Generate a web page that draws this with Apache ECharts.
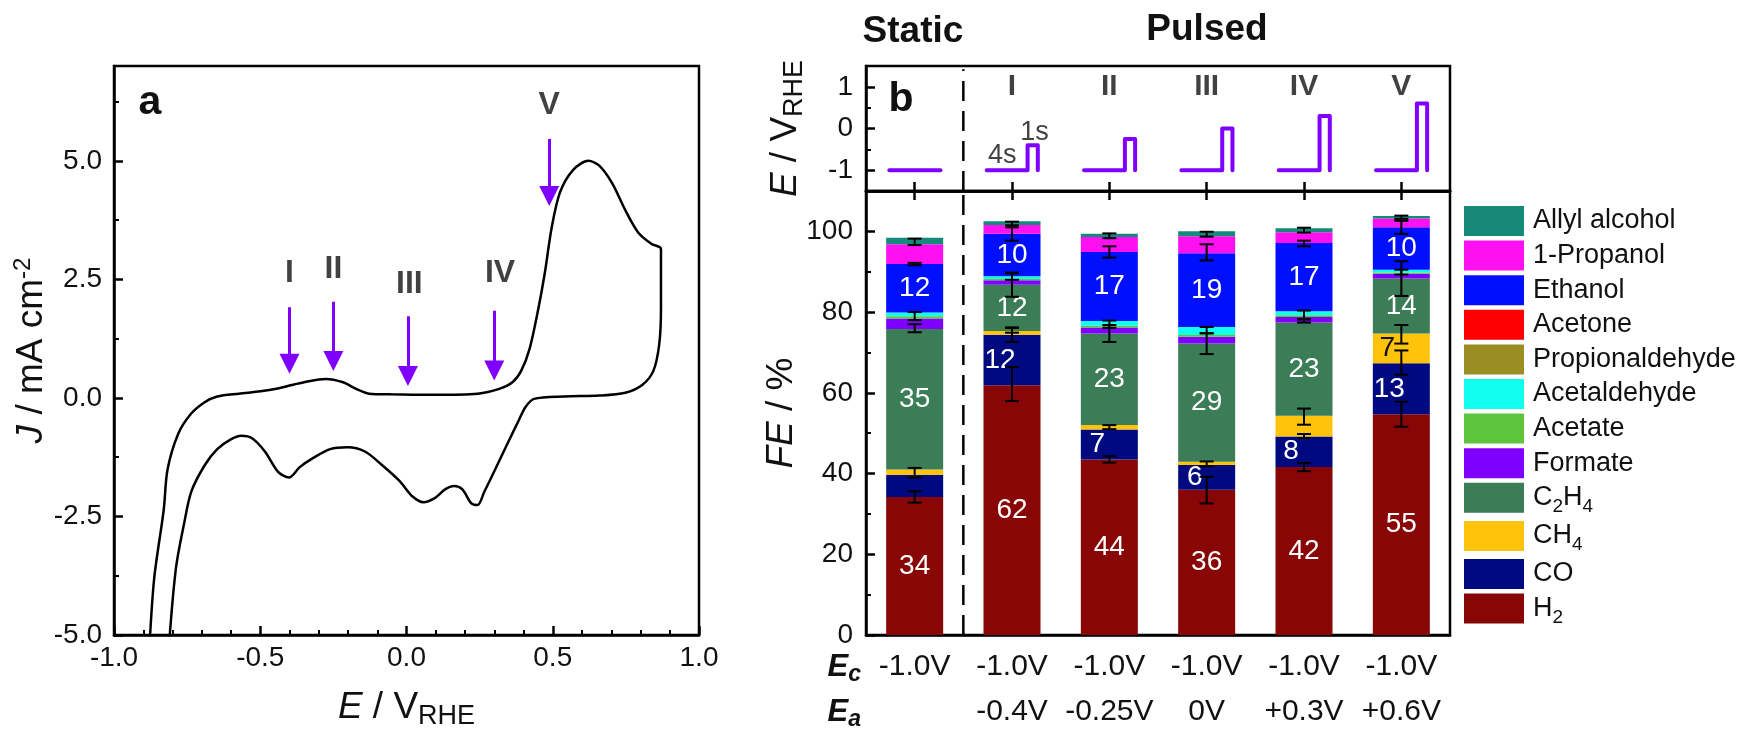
<!DOCTYPE html>
<html>
<head>
<meta charset="utf-8">
<script src="https://cdn.jsdelivr.net/npm/echarts@6/dist/echarts.min.js"></script>
<style>html,body{margin:0;padding:0;background:#fff}#c{width:1749px;height:740px}</style>
</head>
<body>
<div id="c"></div>
<script>
// ================= DATA =================
// Panel a: cyclic voltammogram, E / V_RHE and J / mA cm-2 (closed loop)
const cvE = [-0.877,-0.862,-0.830,-0.817,-0.780,-0.736,-0.690,-0.647,-0.573,-0.499,-0.440,-0.400,-0.350,-0.276,-0.217,-0.172,-0.128,-0.053,0.095,0.243,0.317,0.362,0.392,0.421,0.451,0.473,0.496,0.525,0.570,0.622,0.659,0.703,0.748,0.792,0.837,0.870,0.870,0.864,0.844,0.807,0.748,0.659,0.540,0.436,0.407,0.384,0.347,0.303,0.266,0.243,0.221,0.191,0.162,0.132,0.095,0.058,0.021,-0.024,-0.083,-0.142,-0.202,-0.261,-0.320,-0.365,-0.402,-0.439,-0.484,-0.528,-0.565,-0.602,-0.647,-0.690,-0.736,-0.760,-0.788,-0.810];
const cvJ = [-5.05,-3.77,-2.36,-1.51,-0.75,-0.33,-0.09,0.03,0.09,0.14,0.20,0.26,0.33,0.40,0.33,0.19,0.09,0.075,0.066,0.09,0.19,0.33,0.57,1.04,1.89,2.64,3.58,4.34,4.81,5.00,4.90,4.53,3.96,3.49,3.25,3.14,1.89,1.13,0.57,0.28,0.11,0.05,0.03,-0.02,-0.19,-0.47,-0.94,-1.51,-1.98,-2.26,-2.22,-1.93,-1.86,-1.93,-2.12,-2.20,-2.08,-1.75,-1.42,-1.13,-1.04,-1.08,-1.27,-1.46,-1.68,-1.56,-1.13,-0.85,-0.80,-0.88,-1.08,-1.42,-1.98,-2.64,-3.58,-5.05];
const arrowNames = ['I','II','III','IV','V'];
const arrowE     = [-0.40, -0.25, 0.005, 0.30, 0.488];
const arrowJTop  = [1.91, 2.03, 1.72, 1.84, 5.46];
const arrowJHead = [0.72, 0.78, 0.46, 0.58, 4.26];
const arrowLabelE = [-0.40, -0.25, 0.01, 0.32, 0.488];
const arrowLabelJ = [2.64, 2.72, 2.40, 2.64, 6.18];

// Panel b
const categories = ['Static','I','II','III','IV','V'];
const pulseEc = [-1.0, -1.0, -1.0, -1.0, -1.0, -1.0];
const pulseEa = [null, -0.4, -0.25, 0.0, 0.3, 0.6];
const pulseTimes = [0, 4, 4, 5, 5];           // 4 s cathodic, 1 s anodic
const ecLabels = ['-1.0V','-1.0V','-1.0V','-1.0V','-1.0V','-1.0V'];
const eaLabels = ['', '-0.4V', '-0.25V', '0V', '+0.3V', '+0.6V'];

// Faradaic efficiencies (%), order: Static, I, II, III, IV, V
const feH2           = [34.2, 61.9, 43.5, 36.0, 41.6, 54.7];
const feCO           = [5.5, 12.5, 7.4, 6.1, 7.6, 12.6];
const feCH4          = [1.3, 0.9, 1.1, 0.8, 5.1, 7.4];
const feC2H4         = [34.8, 11.5, 22.7, 29.3, 23.1, 13.6];
const feFormate      = [2.6, 1.1, 1.5, 1.7, 1.4, 1.2];
const feAcetate      = [0.6, 0.3, 0.4, 0.4, 0.4, 0.3];
const feAcetaldehyde = [0.9, 0.7, 1.2, 2.0, 1.0, 0.7];
const fePropionaldehyde = [0, 0, 0, 0, 0, 0];
const feAcetone      = [0, 0, 0, 0, 0, 0];
const feEthanol      = [12.0, 10.5, 17.1, 18.3, 16.9, 10.5];
const fePropanol     = [4.9, 2.2, 3.7, 4.2, 2.7, 2.2];
const feAllyl        = [1.6, 0.9, 0.8, 1.2, 1.0, 0.6];

// printed segment labels
const labH2      = ['34','62','44','36','42','55'];
const labCO      = ['','12','7','6','8','13'];
const labCH4     = ['','','','','','7'];
const labC2H4    = ['35','12','23','29','23','14'];
const labEthanol = ['12','10','17','19','17','10'];

// error bars: [category index, centre FE, half range]
const errBars = [
  [0,97.4,0.8],[0,91.9,0.3],[0,79.0,1.0],[0,76.0,1.0],[0,40.2,1.2],[0,34.2,1.4],
  [1,101.7,0.7],[1,99.6,1.9],[1,88.8,0.8],[1,86.8,3.0],[1,75.5,0.6],[1,74.4,1.8],[1,62.2,4.2],
  [2,98.9,0.6],[2,94.9,1.4],[2,77.0,0.9],[2,74.7,2.1],[2,51.5,0.5],[2,43.5,0.8],
  [3,99.3,0.6],[3,94.8,2.0],[3,75.5,0.8],[3,72.2,2.6],[3,42.4,0.6],[3,35.9,3.3],
  [4,100.3,0.6],[4,97.0,0.7],[4,79.3,1.1],[4,77.8,0.4],[4,54.1,2.0],[4,49.3,0.5],[4,41.6,1.0],
  [5,103.5,0.4],[5,101.0,1.6],[5,89.9,0.6],[5,88.3,4.3],[5,74.5,2.3],[5,67.5,3.0],[5,54.7,3.1]
];

// legend order (top to bottom) and stacking (bottom to top)
const legendOrder = ['Allyl alcohol','1-Propanol','Ethanol','Acetone','Propionaldehyde','Acetaldehyde','Acetate','Formate','C2H4','CH4','CO','H2'];
const stackSeries = [
  ['H2', feH2, labH2], ['CO', feCO, labCO], ['CH4', feCH4, labCH4], ['C2H4', feC2H4, labC2H4],
  ['Formate', feFormate, null], ['Acetate', feAcetate, null], ['Acetaldehyde', feAcetaldehyde, null],
  ['Propionaldehyde', fePropionaldehyde, null], ['Acetone', feAcetone, null],
  ['Ethanol', feEthanol, labEthanol], ['1-Propanol', fePropanol, null], ['Allyl alcohol', feAllyl, null]
];

// ================= STYLE =================
const FONT = '"Liberation Sans", Arial, Helvetica, sans-serif';
const INK = '#111';
const PURPLE = '#7f00ff';
const colors = {
  'Allyl alcohol':'#17897a','1-Propanol':'#ff10f0','Ethanol':'#0010ff','Acetone':'#ff0000',
  'Propionaldehyde':'#9a8e22','Acetaldehyde':'#12fff0','Acetate':'#5ec43c','Formate':'#8000ff',
  'C2H4':'#3b7d57','CH4':'#ffc30c','CO':'#000a80','H2':'#880606'
};
const labelStyle = { // offsets for labels pushed aside by error bars
  CO: [[0,0],[-12,0],[-12,0],[-12,0],[-13,0],[-12,0]],
  CH4: [[0,0],[0,0],[0,0],[0,0],[0,0],[-14,0]]
};
const labelColor = { CH4: '#111' };
const pulseScale = 0.105, pulseStart = -0.26; // category units per second, start offset

const TITLE = 37;
const richName = {
  i:{fontStyle:'italic', fontSize:TITLE, fontFamily:FONT, color:INK},
  sub:{fontSize:27, fontFamily:FONT, color:INK, verticalAlign:'bottom', padding:[18,0,0,0]},
  sup:{fontSize:24, fontFamily:FONT, color:INK, verticalAlign:'top', padding:[0,0,16,0]}
};
const nameStyle = {fontSize:TITLE, fontFamily:FONT, color:INK, rich:richName};
const axLine = {show:true, onZero:false, lineStyle:{color:'#000', width:2.5}};
const tickLab = {fontSize:28, fontFamily:FONT, color:INK};

function minorAxis(grid, min, max, vals){
  return {type:'value', gridIndex:grid, position:'left', offset:0, min:min, max:max,
    axisLine:{show:false, onZero:false},
    axisLabel:{show:false}, splitLine:{show:false},
    axisTick:{show:true, inside:true, length:5, customValues:vals, lineStyle:{color:'#000', width:2}}};
}

// ================= BUILD =================
const series = [];

// Panel a CV
series.push({type:'line', xAxisIndex:0, yAxisIndex:0, data: cvE.map((e,i)=>[e, cvJ[i]]),
  showSymbol:false, smooth:0.3, lineStyle:{color:'#000', width:2.5}, clip:true, z:3});
// Panel a arrows
series.push({type:'lines', coordinateSystem:'cartesian2d', xAxisIndex:0, yAxisIndex:0,
  data: arrowE.map((e,i)=>({coords:[[e, arrowJTop[i]],[e, arrowJHead[i]]]})),
  symbol:['none','triangle'], symbolSize:[15,20],
  lineStyle:{color:PURPLE, width:3, opacity:1}, itemStyle:{color:PURPLE}, z:4});
// Panel a roman numerals
series.push({type:'scatter', xAxisIndex:0, yAxisIndex:0, symbolSize:0,
  data: arrowNames.map((n,i)=>[arrowLabelE[i], arrowLabelJ[i], n]),
  label:{show:true, position:'inside', formatter:p=>p.data[2], fontSize:32, fontWeight:'bold', fontFamily:FONT, color:INK}});

// Panel b top: potential programmes
categories.forEach((c,k)=>{
  let pts;
  if (pulseEa[k] === null) {
    pts = [[k+pulseStart, pulseEc[k]], [k+pulseStart+5*pulseScale, pulseEc[k]]];
  } else {
    const lv = [pulseEc[k], pulseEc[k], pulseEa[k], pulseEa[k], pulseEc[k]];
    pts = pulseTimes.map((t,j)=>[k+pulseStart+t*pulseScale, lv[j]]);
  }
  series.push({type:'line', xAxisIndex:1, yAxisIndex:2, data:pts, showSymbol:false,
    lineStyle:{color:PURPLE, width:4, join:'round', cap:'round'}, z:3});
});
series.push({type:'scatter', xAxisIndex:1, yAxisIndex:2, symbolSize:0,
  data: categories.slice(1).map((c,i)=>[i+1, 1.0, c]),
  label:{show:true, position:'inside', formatter:p=>p.data[2], fontSize:30, fontWeight:'bold', fontFamily:FONT, color:INK}});
series.push({type:'scatter', xAxisIndex:1, yAxisIndex:2, symbolSize:0,
  data: [[1-0.1, -0.64, '4s'], [1+0.23, -0.1, '1s']],
  label:{show:true, position:'inside', formatter:p=>p.data[2], fontSize:27, fontFamily:FONT, color:INK}});

// dashed separator between static and pulsed
series.push({type:'line', xAxisIndex:1, yAxisIndex:2, data:[[0.5,-1.5],[0.5,1.42]], showSymbol:false,
  lineStyle:{color:'#000', width:2.5, type:[20,10]}});
series.push({type:'line', xAxisIndex:5, yAxisIndex:4, data:[[0.5,0],[0.5,110]], showSymbol:false,
  lineStyle:{color:'#000', width:2.5, type:[20,10]}});

// stacked FE bars
stackSeries.forEach(([name, vals, labs])=>{
  series.push({type:'bar', name:name, stack:'fe', xAxisIndex:3, yAxisIndex:4, barWidth:57,
    itemStyle:{color:colors[name]},
    data: vals.map((v,i)=>{
      const item = {value:v};
      if (labs && labs[i]) {
        item.label = {show:true, position:'inside', formatter:labs[i], fontSize:28, fontFamily:FONT,
          color: labelColor[name] || '#fff',
          offset: (labelStyle[name] ? labelStyle[name][i] : [0,0])};
      }
      return item;
    })
  });
});
// error bars
series.push({type:'custom', xAxisIndex:3, yAxisIndex:4, data:errBars, z:10,
  renderItem:(params, api)=>{
    const x = api.value(0), c = api.value(1), e = api.value(2);
    const p1 = api.coord([x, c+e]), p2 = api.coord([x, c-e]);
    const hw = 7, st = {stroke:'#000', lineWidth:2};
    return {type:'group', children:[
      {type:'line', shape:{x1:p1[0], y1:p1[1], x2:p2[0], y2:p2[1]}, style:st},
      {type:'line', shape:{x1:p1[0]-hw, y1:p1[1], x2:p1[0]+hw, y2:p1[1]}, style:st},
      {type:'line', shape:{x1:p2[0]-hw, y1:p2[1], x2:p2[0]+hw, y2:p2[1]}, style:st}
    ]};
  }});

const subFmt = {'C2H4':'C{s|2}H{s|4}', 'CH4':'CH{s|4}', 'H2':'H{s|2}'};

const option = {
  animation:false,
  backgroundColor:'#fff',
  grid:[
    {left:114, top:66, width:585, height:569, show:true, borderColor:'#000', borderWidth:2.5},
    {left:866, top:66, width:584, height:125, show:true, borderColor:'#000', borderWidth:2.5},
    {left:866, top:191, width:584, height:444, show:true, borderColor:'#000', borderWidth:2.5}
  ],
  xAxis:[
    {type:'value', gridIndex:0, min:-1, max:1, interval:0.5, axisLine:axLine,
      axisTick:{inside:true, length:9, lineStyle:{color:'#000', width:2.5}},
      minorTick:{show:true, splitNumber:5, length:5, lineStyle:{color:'#000', width:2}},
      splitLine:{show:false}, minorSplitLine:{show:false},
      axisLabel:Object.assign({margin:9, formatter:v=>v.toFixed(1)}, tickLab),
      name:'{i|E} / V{sub|RHE}', nameLocation:'middle', nameGap:50, nameTextStyle:nameStyle},
    {type:'value', gridIndex:1, min:-0.5, max:5.5, show:false, axisLine:{onZero:false}},
    {type:'category', gridIndex:1, data:categories, position:'bottom', axisLine:axLine,
      axisTick:{show:true, inside:true, length:9, alignWithLabel:true, interval:0, lineStyle:{color:'#000', width:2.5}},
      axisLabel:{show:false}},
    {type:'category', gridIndex:2, data:categories, position:'bottom', axisLine:axLine,
      axisTick:{show:false},
      axisLabel:Object.assign({}, tickLab, {interval:0, fontSize:30, margin:9, lineHeight:45,
        formatter:(v,i)=>ecLabels[i]+'\n'+eaLabels[i]})},
    {type:'category', gridIndex:2, data:categories, position:'top', axisLine:axLine,
      axisTick:{show:true, inside:true, length:9, alignWithLabel:true, interval:0, lineStyle:{color:'#000', width:2.5}},
      axisLabel:{show:false}},
    {type:'value', gridIndex:2, min:-0.5, max:5.5, show:false, axisLine:{onZero:false}}
  ],
  yAxis:[
    {type:'value', gridIndex:0, position:'left', min:-5, max:7, interval:2.5, axisLine:axLine,
      axisTick:{inside:true, length:9, customValues:[-5,-2.5,0,2.5,5], lineStyle:{color:'#000', width:2.5}},
      splitLine:{show:false},
      axisLabel:Object.assign({margin:12, customValues:[-5,-2.5,0,2.5,5], formatter:v=>v.toFixed(1)}, tickLab),
      name:'{i|J} / mA cm{sup|-2}', nameLocation:'middle', nameGap:62, nameRotate:90, nameTextStyle:nameStyle},
    minorAxis(0, -5, 7, [-3.75,-1.25,1.25,3.75,6.25]),
    {type:'value', gridIndex:1, position:'left', min:-1.5, max:1.5, axisLine:axLine,
      axisTick:{inside:true, length:9, customValues:[-1,0,1], lineStyle:{color:'#000', width:2.5}},
      splitLine:{show:false},
      axisLabel:Object.assign({margin:13, customValues:[-1,0,1]}, tickLab),
      name:'{i|E} / V{sub|RHE}', nameLocation:'middle', nameGap:58, nameRotate:90, nameTextStyle:nameStyle},
    minorAxis(1, -1.5, 1.5, [-0.5,0.5]),
    {type:'value', gridIndex:2, position:'left', min:0, max:110, interval:20, axisLine:axLine,
      axisTick:{inside:true, length:9, customValues:[0,20,40,60,80,100], lineStyle:{color:'#000', width:2.5}},
      splitLine:{show:false},
      axisLabel:Object.assign({margin:13, customValues:[0,20,40,60,80,100]}, tickLab),
      name:'{i|FE} / %', nameLocation:'middle', nameGap:66, nameRotate:90, nameTextStyle:nameStyle},
    minorAxis(2, 0, 110, [10,30,50,70,90])
  ],
  legend:{
    orient:'vertical', left:1464, top:206, itemWidth:60, itemHeight:30, itemGap:4.6,
    icon:'rect', selectedMode:false, padding:0, data:legendOrder,
    formatter:n=>subFmt[n] || n,
    textStyle:{fontSize:27, fontFamily:FONT, color:INK, padding:[0,0,0,4],
      rich:{s:{fontSize:19, fontFamily:FONT, color:INK, verticalAlign:'bottom', padding:[18,0,0,0]}}}
  },
  graphic:[
    {type:'text', x:150, y:103, style:{text:'a', fontSize:41, fontWeight:'bold', fontFamily:FONT, fill:INK, align:'center', verticalAlign:'middle'}},
    {type:'text', x:901, y:100, style:{text:'b', fontSize:41, fontWeight:'bold', fontFamily:FONT, fill:INK, align:'center', verticalAlign:'middle'}},
    {type:'text', x:913, y:32, style:{text:'Static', fontSize:37, fontWeight:'bold', fontFamily:FONT, fill:INK, align:'center', verticalAlign:'middle'}},
    {type:'text', x:1207, y:30, style:{text:'Pulsed', fontSize:37, fontWeight:'bold', fontFamily:FONT, fill:INK, align:'center', verticalAlign:'middle'}},
    {type:'text', x:861, y:667, style:{text:'E{s|c}', fontSize:31, fontWeight:'bold', fontStyle:'italic', fontFamily:FONT, fill:INK, align:'right', verticalAlign:'middle',
      rich:{s:{fontSize:23, fontWeight:'bold', fontStyle:'italic', fontFamily:FONT, fill:INK, verticalAlign:'bottom', padding:[16,0,0,0]}}}},
    {type:'text', x:861, y:712, style:{text:'E{s|a}', fontSize:31, fontWeight:'bold', fontStyle:'italic', fontFamily:FONT, fill:INK, align:'right', verticalAlign:'middle',
      rich:{s:{fontSize:23, fontWeight:'bold', fontStyle:'italic', fontFamily:FONT, fill:INK, verticalAlign:'bottom', padding:[16,0,0,0]}}}}
  ],
  series:series
};

const chart = echarts.init(document.getElementById('c'), null, {renderer:'canvas', width:1749, height:740});
chart.setOption(option);
</script>
</body>
</html>
